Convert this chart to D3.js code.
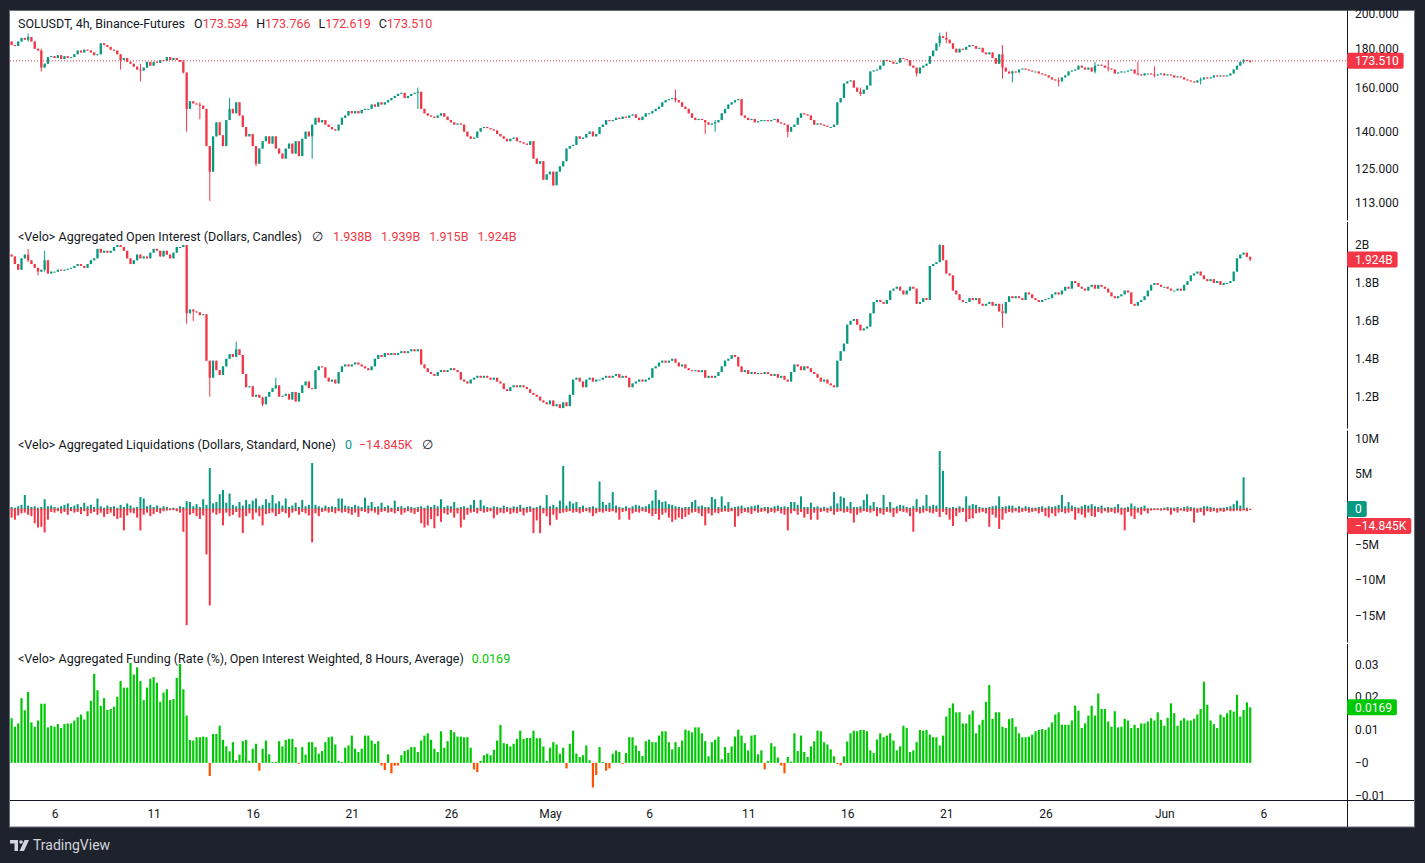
<!DOCTYPE html>
<html>
<head>
<meta charset="utf-8">
<script src="https://cdn.jsdelivr.net/npm/d3@7"></script>
<style>
html, body { margin: 0; padding: 0; background: #1e222d; }
svg { display: block; font-family: Roboto, "Noto Sans", sans-serif; }
</style>
</head>
<body>
<svg id="chart" width="1425" height="863"></svg>
<script>
// 4h bars, SOLUSDT Binance futures, first bar 2024-04-03 20:00 UTC
var startTime = Date.UTC(2024, 3, 3, 20);
var barHours = 4;

var priceOpen0 = 184;
var priceClose = [
	182,181.5,184,186,185,186.5,184,
	180,179,170,172,175.5,176,
	175,176.5,174.5,176,175,175.5,
	177,179,178,179.5,179,178,
	176.5,177,183,182,181,179.5,
	179,177,174,175,173,172,
	170.5,169,168.5,170,173,171,
	173,172.5,174,173.5,175.5,174,
	175,174,173,167.5,150,153.5,
	152.5,152,151.5,150,134,124,
	138,144,138.5,134,145,150,
	148,153,147,142,138,139,
	134,127,133,136,138,135,
	138,133,131,129,133,135,
	131,136,130,137,140,138,
	143,146,144,145,143,142,
	141,140.5,143,146,147,149,
	148,149,148,149.5,150,150,
	152,151,153,152,153,154,
	155,156,157,157.5,155,156,
	157,157.5,158,150,148,147,
	146.5,146,147,148,146.5,145,
	144,143,143.5,143,140,138,
	137,137.5,140,141.5,142,141.5,
	141,140.5,139,138,137,136,
	137,137.5,136,135.5,135,134.5,
	136,129,127,128,121,123,
	124,119,124,126,128,133,
	134,134.5,138,137,137.5,139,
	140,138,139,142,143,145,
	144.5,145,146,145.5,146.5,146,
	147,147.5,146,145,146.5,148,
	148,149,150,151,153,154,
	154.5,155,154,153,151,150,
	148,146,145,145.5,145,144,
	143,143.5,144,145,148,150,
	152,153,154,154.5,147,146,
	145,145.5,144,144.5,145,145,
	144.5,145,145.5,144,143.5,143,
	140,142,143,146,148,147.5,
	147,145,143,143.5,143,142.5,
	142,142,143,153,155,162,
	163,163.5,160,158,157,159,
	161,168,168.5,169,171,174,
	173.5,173,172,172.5,175,174.5,
	174,171,170,167,170,171,
	172,176,179,183,187,186,
	185,183,180,178,180,179.5,
	181,182,181.5,180,180.5,178,
	177,178,175,172,177,170,
	168,167,168,167.5,169,169.5,
	169,168.5,168,168,167,166.5,
	166,165,164,163.5,163,165,
	166,168,168.5,169,171,170,
	169,170,168,171,171.5,171,
	170,169.5,169,167,167.5,168,
	168,168.5,169,167,166.5,166,
	167,167,166.5,166,166.5,167,
	166,166.5,166,165,165.5,165,
	164,163.5,163,162.5,163.5,164,
	165,164.5,165,166,165.5,166,
	165.5,166,167,169,171,173,
	174,173.534,173.51
];
// [bar, high, low] for the wicks that stick out of the bodies
var priceWicks = [
	[5,188.5,184],[9,180,168],[33,176,169],[39,172,163],[52,174,167],[53,167.5,140],
	[57,153,145.3],[60,134,113.5],[66,155,145],[74,134,126],[91,143,129],
	[123,160,150],[164,124,118.7],[201,159,153],[210,145,139],[213,145,140],
	[235,143,137.6],[257,160,156],[274,170,165.5],[281,189,181],[283,189.5,183],
	[300,182,164.4],[303,168.5,162.6],[317,165,160.6],[328,173,167],[332,174,168],
	[341,173,166],[346,170.7,165],[360,165,161.5],[373,174.5,172],[375,173.766,172.619]
];

// aggregated open interest, billions of dollars
var oiOpen0 = 1.95;
var oiClose = [
	1.94,1.90,1.87,1.93,1.95,1.92,1.90,
	1.88,1.86,1.87,1.92,1.85,1.86,
	1.86,1.87,1.865,1.87,1.875,1.88,
	1.89,1.90,1.89,1.88,1.90,1.92,
	1.93,1.98,1.96,1.97,1.96,1.97,
	1.99,2.00,1.99,1.97,1.93,1.90,
	1.92,1.95,1.93,1.94,1.93,1.96,
	1.98,1.97,1.94,1.97,1.95,1.93,
	1.96,1.99,1.99,2.00,1.64,1.66,
	1.65,1.645,1.63,1.635,1.39,1.30,
	1.39,1.34,1.315,1.36,1.40,1.425,
	1.41,1.45,1.42,1.32,1.25,1.255,
	1.20,1.21,1.195,1.16,1.20,1.225,
	1.245,1.26,1.20,1.205,1.215,1.185,
	1.225,1.175,1.22,1.26,1.28,1.245,
	1.24,1.34,1.36,1.355,1.30,1.28,
	1.29,1.27,1.33,1.36,1.37,1.36,
	1.37,1.38,1.37,1.36,1.35,1.34,
	1.36,1.40,1.42,1.41,1.43,1.42,
	1.43,1.42,1.43,1.44,1.43,1.44,
	1.45,1.44,1.45,1.37,1.35,1.33,
	1.32,1.31,1.33,1.34,1.33,1.34,
	1.35,1.34,1.33,1.29,1.28,1.27,
	1.29,1.30,1.31,1.30,1.31,1.30,
	1.29,1.30,1.28,1.27,1.24,1.23,
	1.25,1.26,1.25,1.26,1.25,1.24,
	1.22,1.21,1.20,1.18,1.17,1.16,
	1.18,1.15,1.16,1.14,1.17,1.15,
	1.21,1.29,1.30,1.28,1.25,1.29,
	1.30,1.28,1.29,1.29,1.30,1.31,
	1.30,1.31,1.32,1.30,1.31,1.30,
	1.25,1.27,1.28,1.29,1.28,1.29,
	1.30,1.35,1.36,1.38,1.39,1.38,
	1.39,1.40,1.38,1.36,1.37,1.35,
	1.34,1.335,1.34,1.33,1.34,1.30,
	1.31,1.30,1.31,1.33,1.36,1.39,
	1.40,1.42,1.41,1.36,1.33,1.34,
	1.32,1.33,1.32,1.325,1.32,1.33,
	1.32,1.31,1.32,1.30,1.31,1.29,
	1.28,1.33,1.37,1.36,1.34,1.36,
	1.35,1.33,1.32,1.30,1.28,1.29,
	1.27,1.26,1.25,1.39,1.44,1.48,
	1.58,1.60,1.61,1.58,1.55,1.56,
	1.57,1.64,1.70,1.71,1.70,1.69,
	1.71,1.76,1.77,1.78,1.76,1.74,
	1.76,1.78,1.77,1.69,1.70,1.72,
	1.71,1.89,1.90,1.91,2.00,1.92,
	1.85,1.84,1.76,1.74,1.71,1.70,
	1.70,1.72,1.71,1.72,1.69,1.68,
	1.69,1.70,1.68,1.69,1.65,1.64,
	1.70,1.73,1.72,1.73,1.72,1.71,
	1.75,1.74,1.72,1.71,1.70,1.71,
	1.715,1.72,1.74,1.75,1.74,1.76,
	1.78,1.77,1.81,1.80,1.78,1.77,
	1.76,1.78,1.79,1.77,1.79,1.78,
	1.77,1.75,1.73,1.72,1.73,1.74,
	1.76,1.75,1.69,1.68,1.70,1.71,
	1.73,1.76,1.79,1.80,1.79,1.78,
	1.78,1.77,1.76,1.76,1.77,1.76,
	1.79,1.81,1.84,1.85,1.86,1.84,
	1.82,1.81,1.82,1.80,1.81,1.79,
	1.80,1.80,1.81,1.86,1.93,1.95,
	1.96,1.938,1.924
];
var oiWicks = [
	[5,1.98,1.91],[8,1.87,1.84],[10,1.97,1.86],[53,2.0,1.585],[55,1.66,1.60],
	[60,1.39,1.20],[68,1.49,1.41],[76,1.20,1.15],[80,1.30,1.24],
	[281,2.005,1.91],[300,1.69,1.565],[375,1.939,1.915]
];

// liquidations, millions of dollars: shorts (+) and longs (-)
var liqShorts = [
	0.3,0.2,0.4,0.6,2.0,0.5,0.3,
	0.4,0.2,0.3,1.4,0.4,0.5,
	0.3,0.2,0.4,0.6,0.8,0.3,
	0.5,0.7,0.3,0.9,0.4,0.6,
	0.3,1.5,0.4,0.2,0.5,0.3,
	0.4,0.2,0.6,0.3,0.8,0.5,
	0.2,0.3,1.7,1.5,0.4,0.6,
	0.3,0.5,0.2,0.4,0.3,0.1,
	0.2,0.1,0.4,0.3,1.1,1.0,
	0.4,0.7,0.3,1.4,0.6,5.8,
	0.8,1.0,2.1,2.7,0.9,2.2,
	0.6,0.4,1.0,0.5,1.3,0.7,
	1.2,1.5,0.4,0.6,1.4,0.9,
	2.0,0.8,1.1,0.5,1.5,0.3,
	0.5,0.9,0.3,1.3,0.4,0.6,
	6.5,0.6,0.4,0.2,0.5,0.3,
	0.4,0.3,1.5,1.5,0.5,0.4,
	0.3,0.6,0.4,0.3,1.6,0.5,
	1.0,0.3,0.4,0.9,0.3,0.5,
	0.2,1.2,0.3,0.4,0.2,0.4,
	0.3,0.2,0.3,0.4,0.2,0.5,
	0.3,0.6,0.4,1.4,0.3,0.5,
	0.4,1.0,0.2,0.3,0.4,0.2,
	0.6,1.3,0.2,1.3,0.5,0.3,
	0.2,0.4,0.3,0.2,0.5,0.3,
	0.2,0.4,0.3,0.6,0.2,0.3,
	0.4,0.2,0.3,0.5,0.2,2.0,
	0.4,0.6,0.3,1.2,6.1,0.5,
	1.1,0.8,1.0,0.3,0.5,0.2,
	0.3,0.4,0.2,3.9,1.0,0.6,
	0.9,2.4,0.5,0.3,0.2,0.4,
	0.2,0.4,0.6,0.5,0.3,0.4,
	0.7,1.2,2.7,1.3,1.0,1.1,
	0.7,0.6,0.4,0.3,0.2,0.3,
	0.3,1.0,1.3,0.4,0.5,0.3,
	0.3,1.7,1.4,0.3,1.8,0.5,
	1.0,0.2,0.3,0.4,0.5,0.2,
	0.3,0.4,0.5,0.6,0.2,0.3,
	0.3,0.2,0.4,0.5,0.3,0.4,
	0.3,1.0,1.0,0.6,1.8,0.3,
	0.3,0.9,0.3,0.4,0.2,0.3,
	0.2,0.4,2.4,0.8,1.8,1.6,
	0.4,1.0,0.3,0.3,0.4,1.3,
	2.1,0.5,1.0,0.3,0.2,2.0,
	0.3,1.0,0.2,0.4,0.6,0.5,
	0.3,0.2,0.4,1.4,0.3,0.5,
	2.0,0.4,0.6,0.5,8.2,5.4,
	0.3,0.2,0.3,0.2,0.4,0.2,
	1.8,0.5,0.7,0.6,0.3,0.2,
	0.2,0.3,0.4,0.5,1.8,0.3,
	0.4,0.5,0.5,0.2,0.4,0.2,
	0.4,0.3,0.2,0.2,0.3,0.4,
	0.2,0.4,0.3,0.4,0.6,2.0,
	0.4,1.0,0.5,0.3,0.2,0.4,
	0.6,0.5,0.7,0.4,0.3,0.5,
	0.2,0.3,0.2,0.3,0.7,0.2,
	0.2,0.3,0.8,0.4,0.2,0.3,
	0.5,0.1,0.1,0.1,0.1,0.1,
	0.2,0.3,0.2,0.2,0.3,0.1,
	0.3,0.4,0.3,0.2,0.1,0.2,
	0.4,0.4,0.3,0.2,0.1,0.2,
	0.2,0.3,0.4,0.7,1.2,0.5,
	4.5,0.2,0
];
var liqLongs = [
	-1.2,-1.5,-0.9,-0.6,-0.5,-0.8,-1.0,
	-2.0,-2.6,-2.5,-3.3,-1.5,-0.4,
	-0.5,-0.3,-0.6,-0.4,-0.8,-0.3,
	-0.5,-0.4,-0.7,-0.3,-1.0,-0.6,
	-0.4,-0.8,-0.5,-1.1,-0.7,-0.5,
	-1.0,-1.4,-1.2,-3.0,-0.9,-0.5,
	-0.6,-1.2,-3.0,-0.8,-0.5,-1.0,
	-0.7,-0.4,-0.6,-0.3,-0.2,-0.1,
	-0.1,-0.3,-0.5,-3.2,-16.4,-0.8,
	-0.6,-1.0,-1.4,-0.9,-6.4,-13.6,
	-0.5,-0.8,-0.6,-2.3,-0.5,-1.0,
	-0.8,-0.4,-1.2,-3.4,-1.0,-0.6,
	-1.5,-0.5,-1.0,-2.3,-0.7,-0.6,
	-0.5,-1.0,-0.7,-0.4,-0.6,-1.2,
	-0.5,-0.3,-0.8,-0.4,-0.6,-0.9,
	-4.7,-0.6,-1.0,-0.4,-0.3,-0.5,
	-0.4,-0.6,-0.3,-0.5,-0.4,-0.6,
	-0.8,-0.5,-1.1,-0.3,-0.4,-0.6,
	-0.3,-0.5,-0.8,-0.4,-0.3,-0.5,
	-0.4,-0.6,-0.3,-0.8,-0.5,-0.3,
	-0.5,-0.7,-0.4,-2.0,-2.6,-2.3,
	-1.4,-2.7,-1.0,-1.8,-0.6,-0.8,
	-0.5,-1.2,-0.6,-2.6,-1.5,-0.8,
	-0.5,-0.4,-0.6,-0.3,-0.5,-0.4,
	-0.3,-1.3,-0.8,-0.5,-0.6,-0.4,
	-0.7,-0.5,-0.6,-0.4,-0.9,-0.5,
	-0.4,-3.4,-1.6,-3.4,-0.6,-1.0,
	-2.3,-0.8,-1.5,-0.6,-0.5,-0.4,
	-0.3,-0.5,-0.4,-0.6,-0.4,-0.3,
	-0.5,-1.0,-0.6,-0.4,-0.5,-0.3,
	-0.4,-0.3,-0.5,-1.5,-0.4,-0.3,
	-1.5,-0.6,-0.4,-0.5,-0.3,-0.4,
	-0.6,-1.0,-0.7,-1.5,-0.8,-0.5,
	-1.2,-1.8,-1.5,-1.2,-1.4,-1.1,
	-0.8,-0.5,-0.4,-0.6,-1.0,-2.3,
	-0.6,-0.9,-0.5,-0.6,-0.4,-0.3,
	-0.4,-0.3,-2.5,-1.0,-0.6,-0.4,
	-0.5,-0.7,-0.3,-0.5,-0.4,-0.3,
	-0.6,-0.4,-0.5,-0.3,-0.6,-0.8,
	-3.0,-0.6,-0.3,-0.8,-0.4,-1.2,
	-0.7,-1.5,-0.5,-1.5,-0.4,-0.3,
	-0.5,-0.3,-0.8,-0.4,-0.3,-0.5,
	-0.4,-0.6,-1.9,-0.8,-0.5,-0.3,
	-0.4,-0.5,-0.3,-1.0,-0.6,-0.8,
	-0.4,-0.5,-1.1,-0.6,-0.3,-0.4,
	-0.5,-1.0,-3.2,-0.4,-0.6,-0.5,
	-0.3,-0.5,-0.6,-0.4,-1.1,-0.4,
	-0.8,-1.5,-2.4,-1.0,-0.5,-0.4,
	-1.8,-1.4,-1.3,-0.6,-0.5,-0.4,
	-0.6,-2.5,-0.8,-1.2,-2.8,-1.5,
	-0.6,-0.4,-0.5,-0.3,-0.5,-0.4,
	-0.3,-0.5,-0.4,-0.3,-0.6,-0.4,
	-1.0,-1.2,-0.6,-1.0,-0.5,-0.4,
	-0.6,-0.5,-0.3,-1.5,-0.6,-0.8,
	-1.2,-0.5,-1.0,-1.1,-0.4,-0.6,
	-0.3,-0.5,-0.4,-0.6,-0.5,-0.8,
	-3.0,-0.4,-1.0,-1.4,-0.5,-0.8,
	-0.3,-0.6,-0.2,-0.1,-0.1,-0.2,
	-0.1,-0.2,-0.8,-0.3,-0.5,-0.2,
	-0.3,-0.4,-0.3,-1.9,-0.5,-0.4,
	-0.9,-0.3,-0.4,-0.3,-0.5,-0.3,
	-0.4,-0.2,-0.3,-0.3,-0.2,-0.3,
	-0.2,-0.3,-0.014845
];

// funding rate, % per 8h, in thousandths (13.6 = 0.0136)
var funding = [
	13.6,11,12,19.7,16,21.6,12.3,11,12.9,18,
	18,10.8,11.3,11,11.8,10.6,11.8,12,12,12.9,
	13.9,14.7,13.2,15.7,18.9,27.1,22.1,17.4,19.7,16.1,
	16.4,17.1,20.1,24.9,22.9,22.9,30.4,26.9,29.1,24.9,
	19.1,22.9,25.6,26.1,24.4,18.6,21.4,22.4,19.1,19.4,
	25.9,30.1,22.4,14.4,7.0,6.8,7.8,7.8,8.0,7.8,
	-4.0,8.8,8.8,11.3,7.0,5.0,3.5,6.3,0.8,2.5,
	6.6,7.0,0.6,4.3,5.8,-2.4,4.3,6.8,2.6,0.3,
	0.3,6.6,5.0,7.0,7.3,7.3,4.8,-0.2,4.8,2.5,
	6.3,6.3,4.8,2.8,3.6,6.3,7.8,8.0,5.6,0.6,
	0.3,4.6,5.3,8.3,4.3,3.3,4.3,8.3,8.3,6.8,
	5.8,6.6,-0.8,-2.2,2.6,-3.2,-0.9,-0.8,2.3,3.6,
	4.0,4.8,4.8,3.3,6.8,8.3,9.0,7.0,4.3,3.3,
	9.6,4.6,6.6,10.0,9.3,8.0,8.0,7.8,7.8,4.6,
	-2.0,-2.8,0.6,2.3,2.8,2.3,4.0,6.8,11.5,6.0,
	5.8,5.0,5.8,7.3,9.8,7.3,7.6,7.6,9.8,7.5,
	7.5,5.0,0.6,4.6,6.3,5.6,2.8,4.6,-1.7,5.8,
	9.8,2.8,1.8,2.3,5.3,0.8,-7.5,-3.7,4.8,0.3,
	-2.4,-1.7,2.8,3.8,3.3,-0.2,3.0,7.8,7.8,5.3,
	3.6,2.1,6.6,7.1,6.3,6.3,8.3,9.6,9.6,6.3,
	4.1,6.3,4.8,6.8,10.1,9.8,9.3,10.8,10.8,9.0,
	6.6,2.0,6.3,7.0,8.0,1.1,4.8,3.0,5.0,8.0,
	10.1,8.3,6.0,3.8,8.3,8.5,2.6,3.8,-2.0,0.6,
	6.0,5.0,1.6,-0.8,-3.2,1.8,0.4,9.0,3.6,8.3,
	3.3,1.8,5.0,6.6,9.8,9.6,6.3,5.6,4.1,2.0,
	-0.2,-0.8,2.0,6.5,9.0,9.8,9.6,10.0,10.0,9.6,
	3.8,3.0,7.1,9.0,7.8,8.3,9.0,6.8,3.8,5.0,
	11.3,10.6,3.3,3.8,6.3,10.0,9.8,10.0,8.6,7.8,
	7.8,5.3,8.3,14.1,16.7,18.1,15.4,15.4,12.0,12.0,
	14.7,15.9,9.0,11.6,13.1,18.6,23.7,13.4,15.4,15.4,
	11.0,10.6,13.3,13.6,11.0,9.0,7.8,7.8,8.0,8.6,
	9.6,10.0,10.3,10.0,10.8,12.3,14.7,15.4,11.6,11.6,
	11.6,12.9,17.4,15.9,10.6,12.0,14.4,17.4,14.4,21.1,
	16.4,16.4,12.6,11.0,15.7,10.8,11.0,13.4,12.9,10.6,
	11.6,10.6,12.0,12.0,12.6,13.6,12.9,15.4,13.1,11.3,
	13.7,18.1,15.1,11.3,12.9,13.6,12.9,12.9,13.4,14.7,
	16.4,24.7,17.7,12.9,11.8,10.6,14.7,13.9,15.1,16.1,
	15.6,20.7,14.1,16.1,18.4,16.9
];

var priceTicks = [200, 180, 160, 140, 125, 113];
var oiTicks = [2.0, 1.8, 1.6, 1.4, 1.2];
var oiTickLabels = ["2B", "1.8B", "1.6B", "1.4B", "1.2B"];
var liqTicks = [10, 5, 0, -5, -10, -15];
var liqTickLabels = ["10M", "5M", "0", "\u22125M", "\u221210M", "\u221215M"];
var fundTicks = [0.03, 0.02, 0.01, 0, -0.01];
var fundTickLabels = ["0.03", "0.02", "0.01", "\u22120", "\u22120.01"];
var dayTicks = ["2024-04-06","2024-04-11","2024-04-16","2024-04-21","2024-04-26","2024-05-01",
	"2024-05-06","2024-05-11","2024-05-16","2024-05-21","2024-05-26","2024-06-01","2024-06-06"];
var dayTickLabels = ["6","11","16","21","26","May","6","11","16","21","26","Jun","6"];

var upColor = "#089981", downColor = "#f23645";
var fundUp = "#00c805", fundDown = "#ff5200";
var ink = "#131722";
var scaleX = 1347; // left edge of the price scale column

var svg = d3.select("#chart");
svg.append("rect").attr("width", 1425).attr("height", 863).attr("fill", "#1e222d");
svg.append("rect")
	.attr("x", 9.5).attr("y", 10.5).attr("width", 1405).attr("height", 816.5)
	.attr("fill", "#fff").attr("stroke", "#6a6d78");

var n = priceClose.length;
var times = d3.range(n).map(function (i) { return new Date(startTime + i * barHours * 3600e3); });
var x = d3.scaleUtc().domain([times[0], times[n - 1]]).range([11.6, 1250.2]);
var step = x(times[1]) - x(times[0]);
var bodyW = step * 0.7;

var yPrice = d3.scaleLog().domain([113, 200]).range([202.3, 14]);
var yOI = d3.scaleLinear().domain([1.2, 2.0]).range([396.7, 245.1]);
var yLiq = d3.scaleLinear().domain([-15, 10]).range([615.3, 438.3]);
var yFund = d3.scaleLinear().domain([-0.01, 0.03]).range([795.7, 664.3]);

function drawCandles(open0, closes, wicks, y) {
	var bars = closes.map(function (c, i) {
		var o = i ? closes[i - 1] : open0;
		return {t: times[i], o: o, c: c, h: Math.max(o, c), l: Math.min(o, c)};
	});
	wicks.forEach(function (w) {
		var b = bars[w[0]];
		b.h = Math.max(b.h, w[1]);
		b.l = Math.min(b.l, w[2]);
	});
	var g = svg.append("g");
	var c = g.selectAll("g").data(bars).enter().append("g")
		.attr("fill", function (d) { return d.c >= d.o ? upColor : downColor; })
		.attr("stroke", function (d) { return d.c >= d.o ? upColor : downColor; });
	c.append("line")
		.attr("x1", function (d) { return x(d.t); })
		.attr("x2", function (d) { return x(d.t); })
		.attr("y1", function (d) { return y(d.h); })
		.attr("y2", function (d) { return y(d.l); })
		.attr("stroke-width", 1);
	c.append("rect")
		.attr("stroke", "none")
		.attr("x", function (d) { return x(d.t) - bodyW / 2; })
		.attr("width", bodyW)
		.attr("y", function (d) { return y(Math.max(d.o, d.c)); })
		.attr("height", function (d) { return Math.max(1, Math.abs(y(d.o) - y(d.c))); });
	return bars;
}

var priceBars = drawCandles(priceOpen0, priceClose, priceWicks, yPrice);
var oiBars = drawCandles(oiOpen0, oiClose, oiWicks, yOI);

// liquidations
var liqG = svg.append("g");
function liqBars(values, color) {
	liqG.selectAll(null).data(values).enter().append("rect")
		.attr("fill", color)
		.attr("x", function (d, i) { return x(times[i]) - 1; })
		.attr("width", 2)
		.attr("y", function (d) { return Math.min(yLiq(d), yLiq(0)); })
		.attr("height", function (d) { return Math.abs(yLiq(d) - yLiq(0)); });
}
liqBars(liqShorts, upColor);
liqBars(liqLongs, downColor);
// the thin red tick every bar leaves on the zero line
liqG.selectAll(null).data(liqLongs).enter().append("rect")
	.attr("fill", downColor)
	.attr("x", function (d, i) { return x(times[i]) - 1; })
	.attr("width", 2).attr("y", yLiq(0) - 0.5).attr("height", 1.5);

// funding
var fundOffset = n - funding.length;
svg.append("g").selectAll("rect").data(funding).enter().append("rect")
	.attr("fill", function (d) { return d >= 0 ? fundUp : fundDown; })
	.attr("x", function (d, i) { return x(times[i + fundOffset]) - 1.1; })
	.attr("width", 2.2)
	.attr("y", function (d) { return Math.min(yFund(d / 1000), yFund(0)); })
	.attr("height", function (d) { return Math.max(1, Math.abs(yFund(d / 1000) - yFund(0))); });

// last price dotted line
var last = priceBars[n - 1];
svg.append("line")
	.attr("x1", 10).attr("x2", scaleX)
	.attr("y1", yPrice(last.c)).attr("y2", yPrice(last.c))
	.attr("stroke", downColor).attr("stroke-width", 1).attr("stroke-dasharray", "1,2");

// right scales
function rightAxis(y, ticks, labels) {
	var a = svg.append("g")
		.attr("transform", "translate(" + scaleX + ",0)")
		.call(d3.axisRight(y).tickValues(ticks).tickSize(0).tickPadding(8)
			.tickFormat(function (d, i) { return labels[i]; }));
	a.select(".domain").remove();
	a.selectAll("text").attr("fill", ink).attr("font-size", 12).attr("font-family", "Roboto, sans-serif");
}
rightAxis(yPrice, priceTicks, priceTicks.map(d3.format(".3f")));
rightAxis(yOI, oiTicks, oiTickLabels);
rightAxis(yLiq, liqTicks, liqTickLabels);
rightAxis(yFund, fundTicks, fundTickLabels);

// scale separator line with small gaps between panes
[[10.5, 220.5], [222, 428.5], [430.5, 642.5], [644, 827]].forEach(function (s) {
	svg.append("line").attr("x1", scaleX + 0.5).attr("x2", scaleX + 0.5)
		.attr("y1", s[0]).attr("y2", s[1]).attr("stroke", ink).attr("stroke-width", 1);
});

// time axis
var tAxis = svg.append("g")
	.attr("transform", "translate(0,800)")
	.call(d3.axisBottom(x).tickValues(dayTicks.map(function (d) { return new Date(d + "T00:00:00Z"); }))
		.tickSize(0).tickPadding(9)
		.tickFormat(function (d, i) { return dayTickLabels[i]; }));
tAxis.select(".domain").remove();
tAxis.selectAll("text").attr("fill", ink).attr("font-size", 12).attr("font-family", "Roboto, sans-serif");
svg.append("line").attr("x1", 10).attr("x2", 1414).attr("y1", 800.5).attr("y2", 800.5)
	.attr("stroke", ink).attr("stroke-width", 1);

// value tags on the scale
function tag(yc, text, fill) {
	var g = svg.append("g");
	var r = g.append("rect").attr("fill", fill).attr("rx", 2);
	var t = g.append("text").attr("x", scaleX + 8).attr("y", yc).attr("dy", "0.35em")
		.attr("fill", "#fff").attr("font-size", 12).text(text);
	var w = t.node().getComputedTextLength();
	r.attr("x", scaleX).attr("y", yc - 8).attr("width", w + 13).attr("height", 16);
}
var f3 = d3.format(".3f");
tag(yPrice(last.c), f3(last.c), downColor);
var lastOI = oiBars[n - 1];
tag(yOI(lastOI.c), f3(lastOI.c) + "B", downColor);
tag(yLiq(0), "0", upColor);
tag(yLiq(0) + 17, "\u221214.845K", downColor);
var lastFund = funding[funding.length - 1] / 1000;
tag(yFund(lastFund), d3.format(".4f")(lastFund), fundUp);

// pane legends
function legend(yc, parts) {
	var t = svg.append("text").attr("x", 18).attr("y", yc).attr("dy", "0.35em").attr("font-size", 12.5);
	parts.forEach(function (p) {
		t.append("tspan").attr("dx", p[2] || 0).attr("fill", p[1]).text(p[0]);
	});
}
var fB = function (v) { return f3(v) + "B"; };
var lastP = priceBars[n - 1];
legend(24, [
	["SOLUSDT, 4h, Binance-Futures", ink],
	["O", ink, 9], [f3(lastP.o), downColor],
	["H", ink, 8], [f3(lastP.h), downColor],
	["L", ink, 8], [f3(lastP.l), downColor],
	["C", ink, 8], [f3(lastP.c), downColor]
]);
legend(237, [
	["<Velo> Aggregated Open Interest (Dollars, Candles)", ink],
	["\u2205", ink, 10],
	[fB(lastOI.o), downColor, 10], [fB(lastOI.h), downColor, 9],
	[fB(lastOI.l), downColor, 9], [fB(lastOI.c), downColor, 9]
]);
legend(445, [
	["<Velo> Aggregated Liquidations (Dollars, Standard, None)", ink],
	["0", upColor, 9], ["\u221214.845K", downColor, 7], ["\u2205", ink, 10]
]);
legend(659, [
	["<Velo> Aggregated Funding (Rate (%), Open Interest Weighted, 8 Hours, Average)", ink],
	[d3.format(".4f")(lastFund), "#00c800", 8]
]);

// footer logo
var logo = svg.append("g").attr("fill", "#d1d4dc");
logo.append("path").attr("d", "M10,840 h8 v11 h-3.5 v-7.5 h-4.5 z");
logo.append("circle").attr("cx", 21).attr("cy", 842).attr("r", 1.8);
logo.append("path").attr("d", "M24.5,840 h4.5 l-5,11 h-4.5 z");
svg.append("text").attr("x", 33).attr("y", 845).attr("dy", "0.35em")
	.attr("fill", "#d1d4dc").attr("font-size", 14).text("TradingView");
</script>
</body>
</html>
